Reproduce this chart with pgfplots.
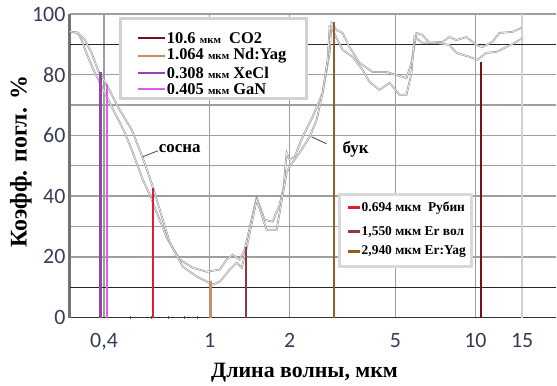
\documentclass[border=0pt]{standalone}
\usepackage{fontspec}
\setmainfont{Liberation Serif}
\newfontfamily\carlito{Carlito}
\usepackage{pgfplots}
\pgfplotsset{compat=1.18}
\definecolor{co2}{RGB}{128,10,30}
\definecolor{ndyag}{RGB}{200,140,105}
\definecolor{xecl}{RGB}{150,70,165}
\definecolor{gan}{RGB}{222,95,228}
\definecolor{ruby}{RGB}{225,30,45}
\definecolor{erv}{RGB}{140,60,60}
\definecolor{eryag}{RGB}{150,90,35}
\definecolor{ticklab}{RGB}{55,60,85}
\begin{document}
\begin{tikzpicture}
\begin{axis}[
  scale only axis, width=487bp, height=304bp,
  xmode=log, xmin=0.2976, xmax=20.16, ymin=0, ymax=100,
  axis x line=bottom, axis y line=left, axis line style={-},
  y axis line style={line width=3bp, draw=black!55},
  x axis line style={line width=1.5bp, draw=black!80},
  xtick={0.4,1,2,5,10}, xticklabels={{0,4},1,2,5,10},
  extra x ticks={15}, extra x tick labels={15},
  extra x tick style={major grid style={gray!35, line width=1.3bp}},
  minor xtick={0.5,0.6,0.7,0.8,0.9},
  ytick={0,20,40,60,80,100}, minor ytick={30,50,70},
  extra y ticks={10,90}, extra y tick labels={,},
  extra y tick style={major grid style={black!85, line width=1.3bp}},
  xmajorgrids, ymajorgrids, yminorgrids,
  major grid style={gray!75, line width=1.3bp},
  minor grid style={gray!75, line width=1.3bp},
  major tick length=0pt, minor tick length=3bp,
  tick style={black!60},
  tick label style={font=\carlito\fontsize{22}{22}\selectfont, text=ticklab},
  xticklabel style={yshift=-12bp},
  yticklabel style={xshift=-1bp},
  /pgf/number format/assume math mode=true,
  xlabel={Длина волны, мкм}, ylabel={Коэфф. погл. \%},
  xlabel style={font=\bfseries\fontsize{22}{22}\selectfont, at={(axis description cs:0.4825,-0.181)}, anchor=center},
  ylabel style={font=\bfseries\fontsize{24}{24}\selectfont, at={(axis description cs:-0.1006,0.513)}, anchor=center},
  clip=false,
]
% curve 1
\addplot[draw=gray!85, double=gray!12, double distance=0.7bp, line width=0.55bp] coordinates {
(0.2976,94.2)(0.319,93.75)(0.3294,91.4)(0.3477,85.9)(0.3695,80.6)(0.4030,74.0)
(0.4393,67.4)(0.4791,60.9)(0.5135,54.3)(0.5598,45.4)(0.5950,40.5)(0.6322,34.5)
(0.6892,26.3)(0.7711,19.1)(0.8630,16.4)(0.9743,15.1)(1.0904,15.8)(1.1586,19.1)
(1.2205,20.7)(1.2966,19.1)(1.3537,22.4)(1.5020,39.5)(1.6097,32.2)(1.7250,31.6)
(1.8330,37.2)(1.8976,42.8)(1.9476,54.3)(1.9989,52.0)(2.0870,52.96)(2.2370,59.5)
(2.4393,66.1)(2.6601,74.0)(2.8266,87.2)(2.8750,97.0)(3.0024,94.7)(3.1623,93.75)
(3.3598,89.1)(3.6644,83.9)(4.1014,80.9)(4.6284,80.9)(5.0468,79.9)(5.5048,78.9)
(5.7482,83.9)(6.0026,93.75)(6.3213,93.1)(6.7161,90.5)(7.5152,90.8)(7.9870,92.4)
(8.4855,91.4)(9.2517,92.4)(10.088,89.8)(10.625,89.1)(11.585,90.8)(12.309,93.75)
(13.774,94.1)(14.894,95.4)};
% curve 2
\addplot[draw=gray!85, double=gray!12, double distance=0.7bp, line width=0.55bp] coordinates {
(0.2976,94.2)(0.319,93.85)(0.339,91.4)(0.3591,87.2)(0.3793,81.6)(0.4135,76.0)
(0.4509,69.4)(0.5090,61.8)(0.5598,52.6)(0.6104,43.1)(0.6486,35.5)(0.7072,24.7)
(0.7914,16.8)(0.8935,13.5)(1.0263,10.9)(1.0904,11.8)(1.1891,15.8)(1.2634,18.1)
(1.3193,16.4)(1.3775,23.0)(1.5020,38.8)(1.6375,28.9)(1.7858,28.9)(1.9476,47.7)
(1.9989,49.7)(2.1796,54.3)(2.3768,59.5)(2.5254,65.1)(2.6601,74.0)(2.7778,84.9)
(2.8266,95.7)(2.9003,94.7)(3.1623,88.2)(3.4483,85.9)(3.7605,81.6)(3.9960,77.6)
(4.3568,75.0)(4.7499,77.3)(5.1808,73.4)(5.5048,73.4)(5.7482,80.6)(5.8998,92.4)
(6.3213,90.5)(7.1355,90.5)(7.9870,89.8)(8.4855,87.2)(9.4937,85.9)(10.175,84.9)
(11.000,87.2)(11.993,87.5)(13.080,89.1)(14.262,90.8)(15.024,92.1)};
% laser lines
\addplot[xecl, line width=2.6bp] coordinates {(0.389,0)(0.389,81)};
\addplot[gan, line width=2.4bp] coordinates {(0.410,0)(0.410,77)};
\addplot[ruby, line width=2.4bp] coordinates {(0.610,0)(0.610,42.8)};
\addplot[ndyag, line width=2.8bp] coordinates {(1.006,0)(1.006,12)};
\addplot[erv, line width=2.4bp] coordinates {(1.370,0)(1.370,23.4)};
\addplot[eryag, line width=2.4bp] coordinates {(2.930,0)(2.930,97.4)};
\addplot[co2, line width=2.6bp] coordinates {(10.50,0)(10.50,84.2)};
\end{axis}
\begin{scope}[shift={(current axis.south west)}, xshift=-70bp, yshift=318bp, x=1bp, y=-1bp]
  % legend 1
  \draw[gray!35, line width=3bp, fill=white] (121,19) rectangle (307,99);
  \draw[co2, line width=2.6bp] (138,38) -- (165,38);
  \draw[ndyag, line width=2.6bp] (138,56) -- (165,56);
  \draw[xecl, line width=2.6bp] (138,73) -- (165,73);
  \draw[gan, line width=2.6bp] (138,89) -- (165,89);
  \begin{scope}[every node/.style={anchor=west, inner sep=0pt, font=\bfseries\fontsize{16.5}{16.5}\selectfont}]
  \node at (167,38) {10.6 {\fontsize{11}{11}\selectfont мкм}\ \ CO2};
  \node at (167,56) {1.064 {\fontsize{11}{11}\selectfont мкм} Nd:Yag};
  \node at (167,73) {0.308 {\fontsize{11}{11}\selectfont мкм} XeCl};
  \node at (167,89) {0.405 {\fontsize{11}{11}\selectfont мкм} GaN};
  \end{scope}
  % legend 2
  \draw[gray!30, line width=2.5bp, fill=white] (340,195) rectangle (472,267);
  \draw[ruby, line width=3bp] (348,208) -- (360,208);
  \draw[erv, line width=3bp] (348,232) -- (360,232);
  \draw[eryag, line width=3bp] (348,252) -- (360,252);
  \begin{scope}[every node/.style={anchor=west, inner sep=0pt, font=\bfseries\fontsize{13.5}{13.5}\selectfont}]
  \node at (362,208) {0.694 мкм\ \ Рубин};
  \node at (362,232) {1,550 мкм Er вол};
  \node at (362,252) {2,940 мкм Er:Yag};
  \end{scope}
  % annotations
  \node[font=\bfseries\fontsize{17}{17}\selectfont] at (180,149) {сосна};
  \draw[black!75, line width=0.8bp] (143,157) -- (158,151);
  \node[font=\bfseries\fontsize{17}{17}\selectfont] at (356,149) {бук};
  \draw[black!75, line width=0.8bp] (312,137) -- (327,144);
\end{scope}
\path[use as bounding box] ([xshift=-70bp,yshift=-65bp]current axis.south west) rectangle ([yshift=14bp]current axis.north east);
\end{tikzpicture}
\end{document}
